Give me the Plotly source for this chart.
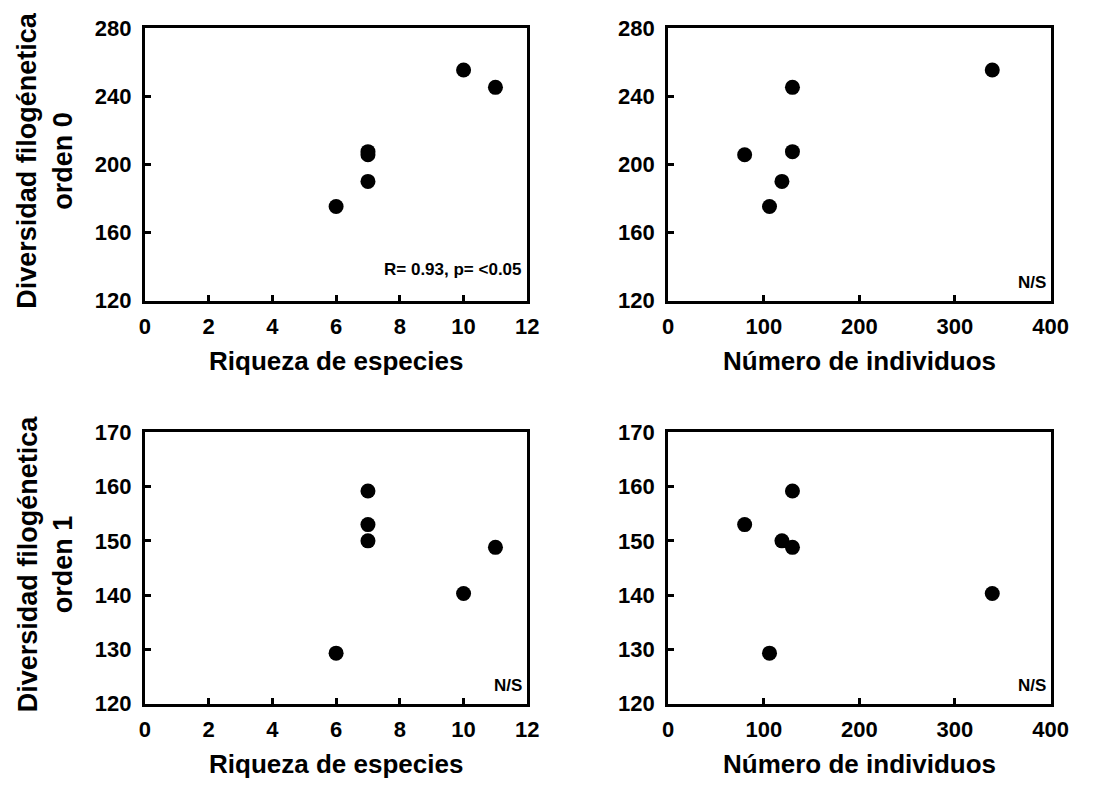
import plotly.graph_objects as go

# ---- data (one value per site) ----
riqueza = [6, 7, 7, 7, 10, 11]
individuos = [106, 119, 80, 130, 339, 130]
pd_orden0 = [175.3, 190.1, 205.8, 207.6, 255.6, 245.4]
pd_orden1 = [129.3, 150.0, 153.0, 159.2, 140.3, 148.8]

x_ticks_riqueza = [0, 2, 4, 6, 8, 10, 12]
x_ticks_ind = [0, 100, 200, 300, 400]
y_ticks_o0 = [120, 160, 200, 240, 280]
y_ticks_o1 = [120, 130, 140, 150, 160, 170]

stats_text = ["R= 0.93, p= <0.05", "N/S", "N/S", "N/S"]
x_titles = ["Riqueza de especies", "Número de individuos"]
y_titles = ["Diversidad filogénetica<br>orden 0", "Diversidad filogénetica<br>orden 1"]

W, H = 1095, 796
FONT = "Liberation Sans, Arial, sans-serif"


def px(xp):
    return xp / W


def py(yp):
    return 1 - yp / H


col_dom = [[px(142), px(533)], [px(677), px(1068)]]
row_pix = [(17, 298), (434, 714)]
row_dom = [[py(b), py(t)] for (t, b) in row_pix]

fig = go.Figure()

panels = [
    (riqueza, pd_orden0, 0, 0, x_ticks_riqueza, y_ticks_o0),
    (individuos, pd_orden0, 0, 1, x_ticks_ind, y_ticks_o0),
    (riqueza, pd_orden1, 1, 0, x_ticks_riqueza, y_ticks_o1),
    (individuos, pd_orden1, 1, 1, x_ticks_ind, y_ticks_o1),
]

annotations = []
for i, (xs, ys, r, c, xt, yt) in enumerate(panels):
    n = i + 1
    xa = "x" if n == 1 else f"x{n}"
    ya = "y" if n == 1 else f"y{n}"
    fig.add_trace(go.Scatter(
        x=xs, y=ys, mode="markers", xaxis=xa, yaxis=ya,
        marker=dict(color="black", size=15, line=dict(width=0)),
        showlegend=False, hoverinfo="skip",
    ))
    axis_common = dict(
        showline=True, mirror=True, linecolor="black", linewidth=3,
        ticks="inside", ticklen=6, tickwidth=3, tickcolor="black",
        showgrid=False, zeroline=False,
        tickfont=dict(family=FONT, size=22, color="black", weight="bold"),
    )
    fig.update_layout(**{
        ("xaxis" if n == 1 else f"xaxis{n}"): dict(
            domain=col_dom[c], anchor=ya, range=[xt[0], xt[-1]],
            tickvals=xt, ticklabelstandoff=4, **axis_common),
        ("yaxis" if n == 1 else f"yaxis{n}"): dict(
            domain=row_dom[r], anchor=xa, range=[yt[0], yt[-1]],
            tickvals=yt, ticklabelstandoff=6, **axis_common),
    })
    top, bot = row_pix[r]
    gap = 20 if i == 0 else 7
    # stats text at bottom-right inside the plot
    annotations.append(dict(
        text=stats_text[i], xref="paper", yref="paper",
        x=col_dom[c][1] - px(3), y=py(bot - gap), xanchor="right", yanchor="bottom",
        showarrow=False, font=dict(family=FONT, size=17, color="black", weight="bold"),
    ))
    # x axis title
    annotations.append(dict(
        text=x_titles[c], xref="paper", yref="paper",
        x=(col_dom[c][0] + col_dom[c][1]) / 2, y=py(bot + 62),
        xanchor="center", yanchor="middle", showarrow=False,
        font=dict(family=FONT, size=26, color="black", weight="bold"),
    ))

for r in range(2):
    top, bot = row_pix[r]
    annotations.append(dict(
        text=y_titles[r], xref="paper", yref="paper",
        x=px(40), y=py((top + bot) / 2 - 4), xanchor="center", yanchor="middle",
        textangle=-90, showarrow=False,
        font=dict(family=FONT, size=27, color="black", weight="bold"),
    ))

fig.update_layout(
    width=W, height=H,
    margin=dict(l=0, r=0, t=0, b=0),
    paper_bgcolor="white", plot_bgcolor="white",
    annotations=annotations,
    font=dict(family=FONT, color="black"),
)

fig.write_html("out.html")
